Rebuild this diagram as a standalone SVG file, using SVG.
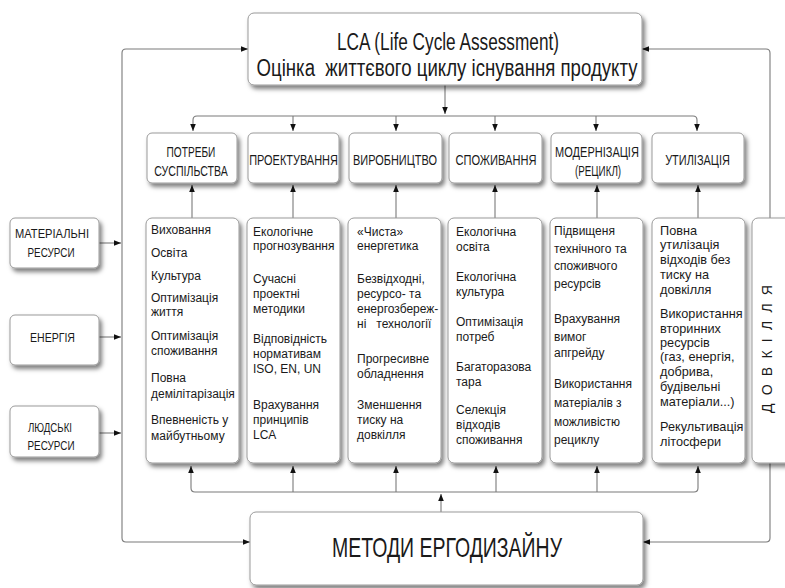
<svg xmlns="http://www.w3.org/2000/svg" width="785" height="588" viewBox="0 0 785 588">
<defs>
<filter id="sh" x="-10%" y="-10%" width="125%" height="130%">
<feDropShadow dx="2.5" dy="3.5" stdDeviation="2.2" flood-color="#000" flood-opacity="0.5"/>
</filter>
<marker id="ah" viewBox="0 0 10 10" refX="10" refY="5" markerWidth="7" markerHeight="7" markerUnits="userSpaceOnUse" orient="auto-start-reverse">
<path d="M0,1 L10,5 L0,9 z" fill="#111"/>
</marker>
<style>
.box{fill:#fff;stroke:#9a9a9a;stroke-width:1;filter:url(#sh)}
.con{fill:none;stroke:#7a7a7a;stroke-width:1.1}
.t{font-family:"Liberation Sans",Arial,sans-serif;fill:#1a1a1a}
.b{font-size:12px}
.h{font-size:15px;text-anchor:middle}
.h2{font-size:14.5px;text-anchor:middle}
.c{text-anchor:middle}
</style>
</defs>
<rect width="785" height="588" fill="#fff"/>

<g id="connectors">
<path class="con" d="M445,85 V114" marker-end="url(#ah)"/>
<path class="con" d="M193,131 V120 Q193,116 197,116 H693 Q697,116 697,120 V131" marker-start="url(#ah)" marker-end="url(#ah)"/>
<path class="con" d="M293,116 V131" marker-end="url(#ah)"/>
<path class="con" d="M396,116 V131" marker-end="url(#ah)"/>
<path class="con" d="M495,116 V131" marker-end="url(#ah)"/>
<path class="con" d="M596,116 V131" marker-end="url(#ah)"/>
<path class="con" d="M192,218 V185" marker-end="url(#ah)"/>
<path class="con" d="M293,218 V185" marker-end="url(#ah)"/>
<path class="con" d="M396,218 V185" marker-end="url(#ah)"/>
<path class="con" d="M495,218 V185" marker-end="url(#ah)"/>
<path class="con" d="M597,218 V185" marker-end="url(#ah)"/>
<path class="con" d="M698,218 V185" marker-end="url(#ah)"/>
<path class="con" d="M191,466 V488 Q191,492 195,492 H694 Q698,492 698,488 V466" marker-start="url(#ah)" marker-end="url(#ah)"/>
<path class="con" d="M293,492 V466" marker-end="url(#ah)"/>
<path class="con" d="M396,492 V466" marker-end="url(#ah)"/>
<path class="con" d="M496,492 V466" marker-end="url(#ah)"/>
<path class="con" d="M597,492 V466" marker-end="url(#ah)"/>
<path class="con" d="M441,512 V494" marker-end="url(#ah)"/>
<path class="con" d="M250,542 H126 Q122,542 122,538 V53 Q122,49 126,49 H248" marker-start="url(#ah)" marker-end="url(#ah)"/>
<path class="con" d="M643,542 H766 Q770,542 770,538 V53 Q770,49 766,49 H642" marker-start="url(#ah)" marker-end="url(#ah)"/>
<path class="con" d="M99,243 H121" marker-end="url(#ah)"/>
<path class="con" d="M99,337 H121" marker-end="url(#ah)"/>
<path class="con" d="M99,433 H121" marker-end="url(#ah)"/>
</g>

<g id="lca">
<rect class="box" x="248" y="13" width="394" height="72" rx="6"/>
<text class="t c" x="448" y="50" font-size="23" textLength="222" lengthAdjust="spacingAndGlyphs">LCA (Life Cycle Assessment)</text>
<text class="t c" x="447" y="76" font-size="23" textLength="381" lengthAdjust="spacingAndGlyphs" xml:space="preserve">Оцінка  життєвого циклу існування продукту</text>
</g>

<g id="h1"><rect class="box" x="147" y="133" width="90" height="50" rx="5"/>
<text class="t h2" transform="translate(191,157) scale(0.7,1)">ПОТРЕБИ</text>
<text class="t h2" transform="translate(191,176) scale(0.73,1)">СУСПІЛЬСТВА</text></g>
<g id="h2"><rect class="box" x="248" y="133" width="91" height="50" rx="5"/>
<text class="t h" transform="translate(293.5,165) scale(0.73,1)">ПРОЕКТУВАННЯ</text></g>
<g id="h3"><rect class="box" x="349" y="133" width="93" height="50" rx="5"/>
<text class="t h" transform="translate(395,165) scale(0.73,1)">ВИРОБНИЦТВО</text></g>
<g id="h4"><rect class="box" x="449" y="133" width="93" height="50" rx="5"/>
<text class="t h" transform="translate(496,165) scale(0.74,1)">СПОЖИВАННЯ</text></g>
<g id="h5"><rect class="box" x="551" y="133" width="91" height="50" rx="5"/>
<text class="t h2" transform="translate(597,157) scale(0.76,1)">МОДЕРНІЗАЦІЯ</text>
<text class="t h2" transform="translate(598,176) scale(0.68,1)">(РЕЦИКЛ)</text></g>
<g id="h6"><rect class="box" x="652" y="133" width="92" height="50" rx="5"/>
<text class="t h" transform="translate(697.5,165) scale(0.73,1)">УТИЛІЗАЦІЯ</text></g>

<g id="res1"><rect class="box" x="10" y="218" width="89" height="50" rx="5"/>
<text class="t c" x="52" y="238" font-size="13" textLength="74" lengthAdjust="spacingAndGlyphs">МАТЕРІАЛЬНІ</text>
<text class="t c" x="51" y="257" font-size="13" textLength="47" lengthAdjust="spacingAndGlyphs">РЕСУРСИ</text></g>
<g id="res2"><rect class="box" x="10" y="315" width="89" height="50" rx="5"/>
<text class="t c" x="52.5" y="342" font-size="13" textLength="45" lengthAdjust="spacingAndGlyphs">ЕНЕРГІЯ</text></g>
<g id="res3"><rect class="box" x="10" y="406" width="89" height="51" rx="5"/>
<text class="t c" x="50" y="432" font-size="13" textLength="44" lengthAdjust="spacingAndGlyphs">ЛЮДСЬКІ</text>
<text class="t c" x="51" y="450" font-size="13" textLength="47" lengthAdjust="spacingAndGlyphs">РЕСУРСИ</text></g>

<g id="c1"><rect class="box" x="146" y="218" width="93" height="245" rx="6"/>
<g class="t b">
<text x="151" y="234">Виховання</text>
<text x="151" y="257">Освіта</text>
<text x="151" y="280">Культура</text>
<text x="151" y="302">Оптимізація</text>
<text x="151" y="316">життя</text>
<text x="151" y="340">Оптимізація</text>
<text x="151" y="355">споживання</text>
<text x="151" y="382">Повна</text>
<text x="151" y="398">демілітарізація</text>
<text x="151" y="424">Впевненість у</text>
<text x="151" y="440">майбутньому</text>
</g></g>

<g id="c2"><rect class="box" x="247" y="218" width="93" height="245" rx="6"/>
<g class="t b">
<text x="253" y="236">Екологічне</text>
<text x="253" y="250">прогнозування</text>
<text x="253" y="283">Сучасні</text>
<text x="253" y="298">проектні</text>
<text x="253" y="313">методики</text>
<text x="253" y="343">Відповідність</text>
<text x="253" y="358">нормативам</text>
<text x="253" y="373">ISO, EN, UN</text>
<text x="253" y="409">Врахування</text>
<text x="253" y="424">принципів</text>
<text x="253" y="439">LCA</text>
</g></g>

<g id="c3"><rect class="box" x="348" y="218" width="93" height="245" rx="6"/>
<g class="t b">
<text x="357" y="236">«Чиста»</text>
<text x="357" y="250">енергетика</text>
<text x="357" y="283">Безвідходні,</text>
<text x="357" y="298">ресурсо- та</text>
<text x="357" y="313">енергозбереж-</text>
<text x="357" y="328" xml:space="preserve">ні   технології</text>
<text x="357" y="363">Прогресивне</text>
<text x="357" y="378">обладнення</text>
<text x="357" y="409">Зменшення</text>
<text x="357" y="424">тиску на</text>
<text x="357" y="439">довкілля</text>
</g></g>

<g id="c4"><rect class="box" x="448" y="218" width="94" height="245" rx="6"/>
<g class="t b">
<text x="456" y="236">Екологічна</text>
<text x="456" y="251">освіта</text>
<text x="456" y="281">Екологічна</text>
<text x="456" y="296">культура</text>
<text x="456" y="326">Оптимізація</text>
<text x="456" y="341">потреб</text>
<text x="456" y="371">Багаторазова</text>
<text x="456" y="386">тара</text>
<text x="456" y="414">Селекція</text>
<text x="456" y="429">відходів</text>
<text x="456" y="444">споживання</text>
</g></g>

<g id="c5"><rect class="box" x="550" y="218" width="93" height="245" rx="6"/>
<g class="t b">
<text x="554" y="235">Підвищеня</text>
<text x="554" y="253">технічного та</text>
<text x="554" y="270">споживчого</text>
<text x="554" y="288">ресурсів</text>
<text x="554" y="323">Врахування</text>
<text x="554" y="341">вимог</text>
<text x="554" y="357">апгрейду</text>
<text x="554" y="388">Використання</text>
<text x="554" y="407">матеріалів з</text>
<text x="554" y="426">можливістю</text>
<text x="554" y="444">рециклу</text>
</g></g>

<g id="c6"><rect class="box" x="652" y="218" width="93" height="245" rx="6"/>
<g class="t b" transform="translate(660,0) scale(1.06,1)">
<text x="0" y="235">Повна</text>
<text x="0" y="249">утилізація</text>
<text x="0" y="264">відходів без</text>
<text x="0" y="279">тиску на</text>
<text x="0" y="294">довкілля</text>
<text x="0" y="318">Використання</text>
<text x="0" y="333">вторинних</text>
<text x="0" y="347">ресурсів</text>
<text x="0" y="361">(газ, енергія,</text>
<text x="0" y="376">добрива,</text>
<text x="0" y="391">будівельні</text>
<text x="0" y="406">матеріали...)</text>
<text x="0" y="431">Рекультивація</text>
<text x="0" y="446">літосфери</text>
</g></g>

<g id="env"><rect class="box" x="752" y="218" width="40" height="245" rx="6"/>
<text class="t c" transform="translate(772,349) rotate(-90)" font-size="14" textLength="128" lengthAdjust="spacing">ДОВКІЛЛЯ</text></g>

<g id="ergo"><rect class="box" x="250" y="512" width="393" height="73" rx="6"/>
<text class="t c" x="447" y="557" font-size="28" textLength="230" lengthAdjust="spacingAndGlyphs">МЕТОДИ ЕРГОДИЗАЙНУ</text></g>
</svg>
